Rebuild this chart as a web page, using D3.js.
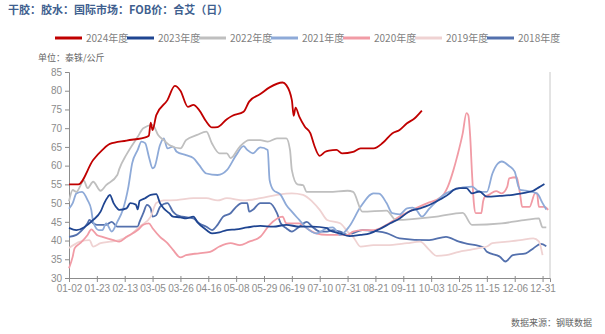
<!DOCTYPE html>
<html>
<head>
<meta charset="utf-8">
<script src="https://cdn.jsdelivr.net/npm/d3@7"></script>
<style>
  body { margin: 0; background: #fff; }
  svg { display: block; font-family: "Noto Sans CJK SC", "Noto Sans", sans-serif; }
</style>
</head>
<body>
<svg id="chart" width="605" height="334"></svg>
<script>
// trading-day index on the x axis, a label every 15 days
const tickLabels = ["01-02","01-23","02-13","03-05","03-26","04-16","05-08","05-29","06-19",
  "07-10","07-31","08-21","09-11","10-03","10-25","11-15","12-06","12-31"];
const years = ["2024年度","2023年度","2022年度","2021年度","2020年度","2019年度","2018年度"];

// [day index, price] per season
const s2024 = [[0,55],[5,55],[13,61.5],[18,64.2],[22,65.8],[31,66.7],[42,67.7],[43,68],[44,71.5],[45,69.5],
  [47,73.5],[53,77.5],[57,81.3],[60,80],[64,75.7],[67,76.2],[70,74.9],[74,71.7],[77,70.2],[80,70.3],
  [85,72.4],[88,73.3],[94,74.4],[97,77.1],[103,79.1],[108,80.9],[115,82.2],[117,81.5],[120,77.5],
  [121,73.3],[122,75.5],[124,73.1],[127,70.4],[130,68.6],[132,65.5],[135,62.6],[138,63.7],[140,64],
  [144,64.2],[147,63.3],[153,63.7],[157,64.6],[164,64.6],[169,66.1],[174,68.6],[178,69.5],[182,71.3],
  [186,72.6],[190,74.7]];
const s2023 = [[0,43.4],[4,42.8],[8,43.5],[13,45.5],[17,47.7],[19,50],[21,51.7],[22,52.2],[24,50],
  [26,48.6],[27,48.2],[31,48.6],[33,50],[36,49.6],[37,48.3],[38,50.6],[41,51.3],[44,52.2],[47,52.4],
  [49,50],[51,48.6],[54,47.3],[56,46.4],[60,46.2],[63,45.9],[67,46.4],[69,45],[74,42.8],[77,41.9],
  [81,42.2],[85,42.8],[90,43],[96,43.5],[103,43.9],[110,43.7],[117,44.2],[124,43.7],[131,43.7],
  [139,43.3],[140,42.8],[146,41.9],[151,41.2],[157,41.5],[162,41.9],[167,43],[173,44.6],[178,45.9],
  [183,47.7],[189,48.6],[194,49.5],[200,51],[205,52.6],[207,53.5],[210,54],[214,54],[217,52.6],
  [221,53.1],[225,51.7],[232,51.9],[239,52.2],[243,52.5],[246,52.8],[250,53.3],[253,54.2],[256,55.1]];
const s2022 = [[0,50.5],[2,53.5],[4,53],[8,56],[10,54],[13,55.7],[17,53.3],[20,54.8],[26,57.5],
  [27,59],[31,63],[37,67.7],[40,70],[45,70.9],[48,68.2],[51,66.8],[54,65.5],[60,64.6],[63,66.8],
  [69,68.2],[74,69.1],[77,65.9],[81,63.3],[85,63.3],[87,62],[92,65.1],[97,66.8],[103,66.8],
  [107,66.4],[112,67.3],[117,67.3],[119,64.2],[120,58.8],[123,55],[126,54.8],[128,53],[140,53],
  [150,53.3],[153,53],[158,47.7],[171,48],[176,45.5],[198,46.4],[212,47.4],[217,44.2],[233,44.6],
  [246,45.5],[253,45.9],[255,43.5],[257,43.5]];
const s2021 = [[0,48.5],[2,50],[4,52.6],[7,53],[10,50.8],[12,48.2],[13,45],[16,42.8],[18,42.8],
  [20,44.6],[23,42.4],[26,45],[29,48.2],[32,54.4],[34,60.6],[37,64.2],[39,66.4],[41,66],[43,62.4],
  [45,59.3],[46,59.6],[49,65.5],[51,67.3],[53,64.6],[56,65.1],[58,63.7],[63,62.8],[67,62],[70,60.2],
  [74,57.9],[80,57.5],[85,58.8],[90,62.8],[94,65.2],[96,64.2],[99,63.3],[103,64.9],[107,64.2],
  [108,56.2],[110,53.5],[114,52.2],[117,49.5],[120,47.7],[124,45.5],[128,43.3],[133,41.9],[139,43.3],
  [142,43.5],[146,41.5],[151,43.8],[157,49],[164,52.6],[167,52.5],[171,50],[174,47.3],[178,47],
  [182,48.6],[185,48.8],[187,48.2],[190,46.4],[194,48.5],[203,52.6],[207,53.5],[217,54.4],[221,53],
  [225,53],[228,57.9],[231,60.6],[233,61.1],[237,59.9],[240,58.4],[242,54.4],[243,53.5],[246,53.3],
  [252,52.6],[255,50],[257,48.3]];
const s2020 = [[0,32.6],[2,35.7],[3,37.9],[6,39.3],[10,41.5],[12,43],[15,41.5],[18,41],[24,40.1],
  [27,39.7],[31,41],[37,42.8],[40,44.2],[43,44.6],[45,43.3],[49,41],[53,39.3],[56,37.5],[60,35.5],
  [63,36.1],[70,36.6],[76,37],[81,38.4],[87,39.3],[92,38.8],[97,39.7],[103,41],[108,44.2],[115,46.4],
  [117,44.6],[124,44.6],[128,43.3],[133,41.9],[139,41.5],[150,41.5],[153,42.4],[158,42.8],[164,42.8],
  [171,44.2],[178,46.4],[185,48.2],[193,50],[200,51.5],[202,52.5],[204,54.4],[207,58.8],[209,62.4],
  [212,68.6],[214,74],[215,73.5],[216,68],[217,58],[218,50],[219,47.3],[222,47.3],[223,50.5],
  [224,51.7],[226,52.2],[230,53.2],[233,52.6],[236,54.4],[237,56.6],[241,56.9],[242,55],[243,52],
  [244,49],[248,49],[251,52.6],[252,52.6],[253,49],[256,49],[258,48.2]];
const s2019 = [[0,38],[6,39.7],[11,40.1],[13,38.4],[17,39.3],[22,39.7],[27,40.1],[33,41.5],[38,43.7],
  [44,46.4],[47,50],[51,50.7],[58,50.8],[67,51.3],[74,51.3],[80,50.7],[85,51.3],[94,50.7],[103,51.3],
  [112,52.2],[120,52.6],[126,52.2],[131,50.4],[135,48.2],[139,45.5],[146,44.6],[150,42.4],[153,41],
  [157,38.4],[164,38.8],[171,38.8],[182,39.3],[189,39.7],[194,37.5],[198,35.9],[203,36.1],[210,37],
  [216,37.5],[220,37.9],[225,38.4],[228,39.3],[236,39.7],[243,40.1],[250,40.6],[253,39.8],[255,36.1]];
const s2018 = [[0,41],[4,41.5],[6,42.3],[10,44.6],[11,45.5],[13,44.6],[15,44.2],[20,44.2],[23,45],
  [26,43.7],[31,43.7],[37,43.7],[38,45],[40,47.3],[42,49.5],[44,48.6],[45,46.4],[47,46.8],[49,49],
  [53,50],[56,47.7],[58,46.8],[61,46.4],[67,45.9],[70,44.6],[74,43.7],[77,42.8],[80,44.2],[83,46.4],
  [87,47.3],[90,49],[93,50],[96,50],[97,47.7],[99,48.2],[103,50],[108,50],[112,47.3],[114,44.6],
  [117,43.3],[120,42.4],[124,43.7],[128,45],[131,43.7],[135,42.4],[139,42.4],[142,42.8],[146,42.4],
  [150,41.5],[153,42],[158,42.8],[165,42.5],[171,42],[178,40.6],[194,40.1],[203,41],[210,39.7],
  [214,39.2],[223,38.2],[225,37],[232,35.7],[235,34.4],[239,36.1],[246,36.6],[250,37.9],[254,39.1],
  [257,38.5]];

const seriesData = [s2024, s2023, s2022, s2021, s2020, s2019, s2018];
const colors = ["#c00000", "#1f4591", "#bfbfbf", "#8eaad8", "#f19ba5", "#efd2d2", "#5370ad"];

const svg = d3.select("#chart");
const x = d3.scaleLinear().domain([0, 259]).range([69, 550]);
const y = d3.scaleLinear().domain([30, 85]).range([278, 72]);

// title and unit
svg.append("text")
  .attr("x", 8).attr("y", 14)
  .attr("fill", "#3f5f8f").attr("font-size", 11).attr("font-weight", "bold")
  .text("干胶：胶水：国际市场：FOB价：合艾（日）");
svg.append("text")
  .attr("x", 38).attr("y", 61)
  .attr("fill", "#666").attr("font-size", 9)
  .text("单位：泰铢/公斤");
svg.append("text")
  .attr("x", 592).attr("y", 326)
  .attr("text-anchor", "end")
  .attr("fill", "#666").attr("font-size", 9)
  .text("数据来源：钢联数据");

// legend
const legend = svg.append("g").selectAll("g")
  .data(years)
  .enter().append("g")
  .attr("transform", (d, i) => "translate(" + (55 + i * 72) + ",38)");
legend.append("line")
  .attr("x1", 0).attr("x2", 27)
  .attr("stroke", (d, i) => colors[i])
  .attr("stroke-width", 3);
legend.append("text")
  .attr("x", 31).attr("y", 3.5)
  .attr("fill", "#7f7f7f").attr("font-size", 10)
  .text(d => d);

// axes
const yAxis = svg.append("g")
  .attr("transform", "translate(69,0)")
  .call(d3.axisLeft(y).tickValues(d3.range(30, 86, 5)).tickSize(4).tickPadding(3));
const xAxis = svg.append("g")
  .attr("transform", "translate(0,278)")
  .call(d3.axisBottom(x).tickValues(d3.range(0, 256, 15))
    .tickFormat((d, i) => tickLabels[i]).tickSize(4).tickPadding(3));
[yAxis, xAxis].forEach(g => {
  g.select(".domain").attr("stroke", "#8c8c8c");
  g.selectAll(".tick line").attr("stroke", "#8c8c8c");
  g.selectAll(".tick text").attr("fill", "#8c8c8c").attr("font-size", 10)
    .attr("font-family", "'Liberation Sans', Arial, sans-serif");
});
xAxis.selectAll(".tick line").attr("y1", -2);

svg.append("line")
  .attr("x1", 550).attr("x2", 550)
  .attr("y1", 72).attr("y2", 278)
  .attr("stroke", "#c8c8c8");

// seasonal lines, oldest first so the current season sits on top
const line = d3.line()
  .x(d => x(d[0]))
  .y(d => y(d[1]))
  .curve(d3.curveMonotoneX);

svg.append("g").selectAll("path")
  .data(seriesData.map((d, i) => ({ values: d, color: colors[i] })).reverse())
  .enter().append("path")
  .attr("d", d => line(d.values))
  .attr("fill", "none")
  .attr("stroke", d => d.color)
  .attr("stroke-width", 1.8)
  .attr("stroke-linejoin", "round");
</script>
</body>
</html>
